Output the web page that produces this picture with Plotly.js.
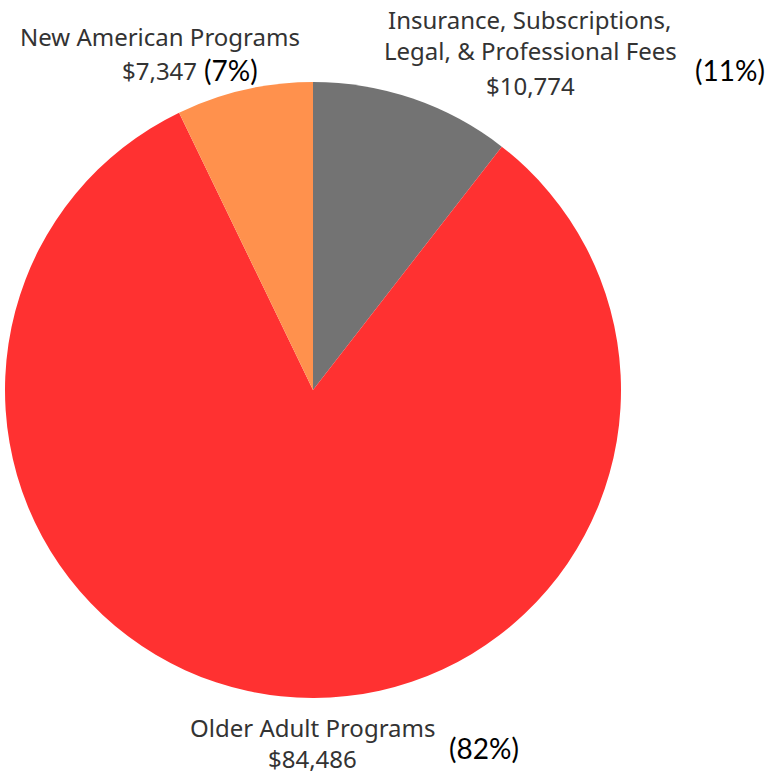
<!DOCTYPE html>
<html>
<head>
<meta charset="utf-8">
<script src="https://cdn.plot.ly/plotly-3.0.1.min.js"></script>
<style>html,body{margin:0;padding:0;background:#fff;}#chart{width:768px;height:776px;}</style>
</head>
<body>
<div id="chart"></div>
<script>
const categories = ["Insurance, Subscriptions, Legal, & Professional Fees", "Older Adult Programs", "New American Programs"];
const labelLines = [["Insurance, Subscriptions,", "Legal, & Professional Fees"], ["Older Adult Programs"], ["New American Programs"]];
const values = [10774, 84486, 7347];
const colors = ["#737373", "#FF3131", "#FF914D"];

const total = values.reduce((a, b) => a + b, 0);
const fmt = v => "$" + v.toLocaleString("en-US");
const pct = v => "(" + Math.round(v / total * 100) + "%)";

const W = 768, H = 776;
const px = x => x / W;
const py = y => 1 - y / H;

const labelFont = {family: "Noto Sans, sans-serif", size: 24, color: "#333333"};
const pctFont = {family: "Lato, sans-serif", size: 28, color: "#000000"};

const place = [
  {x: 530, ys: [19, 51, 85], px: 730, py: 70},
  {x: 312, ys: [727, 758], px: 484, py: 748},
  {x: 160, ys: [36], vx: 159, vy: 70, px: 231, py: 70}
];

const annotations = [];
categories.forEach((c, i) => {
  const p = place[i];
  const lines = labelLines[i].slice();
  lines.forEach((t, k) => {
    annotations.push({text: t, x: px(p.x), y: py(p.ys[k]), xref: "paper", yref: "paper",
      showarrow: false, font: labelFont, xanchor: "center", yanchor: "middle", borderpad: 0});
  });
  const vx = p.vx !== undefined ? p.vx : p.x;
  const vy = p.vy !== undefined ? p.vy : p.ys[lines.length];
  annotations.push({text: fmt(values[i]), x: px(vx), y: py(vy), xref: "paper", yref: "paper",
    showarrow: false, font: labelFont, xanchor: "center", yanchor: "middle", borderpad: 0});
  annotations.push({text: pct(values[i]), x: px(p.px), y: py(p.py), xref: "paper", yref: "paper",
    showarrow: false, font: pctFont, xanchor: "center", yanchor: "middle", borderpad: 0});
});

const cx = 313, cy = 390, r = 308;
const data = [{
  type: "pie",
  labels: categories,
  values: values,
  marker: {colors: colors, line: {width: 0}},
  sort: false,
  direction: "clockwise",
  rotation: 0,
  textinfo: "none",
  hoverinfo: "label+value+percent",
  domain: {x: [px(cx - r), px(cx + r)], y: [py(cy + r), py(cy - r)]}
}];

const layout = {
  width: W, height: H,
  margin: {l: 0, r: 0, t: 0, b: 0},
  showlegend: false,
  paper_bgcolor: "#ffffff",
  annotations: annotations
};

Plotly.newPlot("chart", data, layout, {displayModeBar: false, staticPlot: true});
</script>
</body>
</html>
